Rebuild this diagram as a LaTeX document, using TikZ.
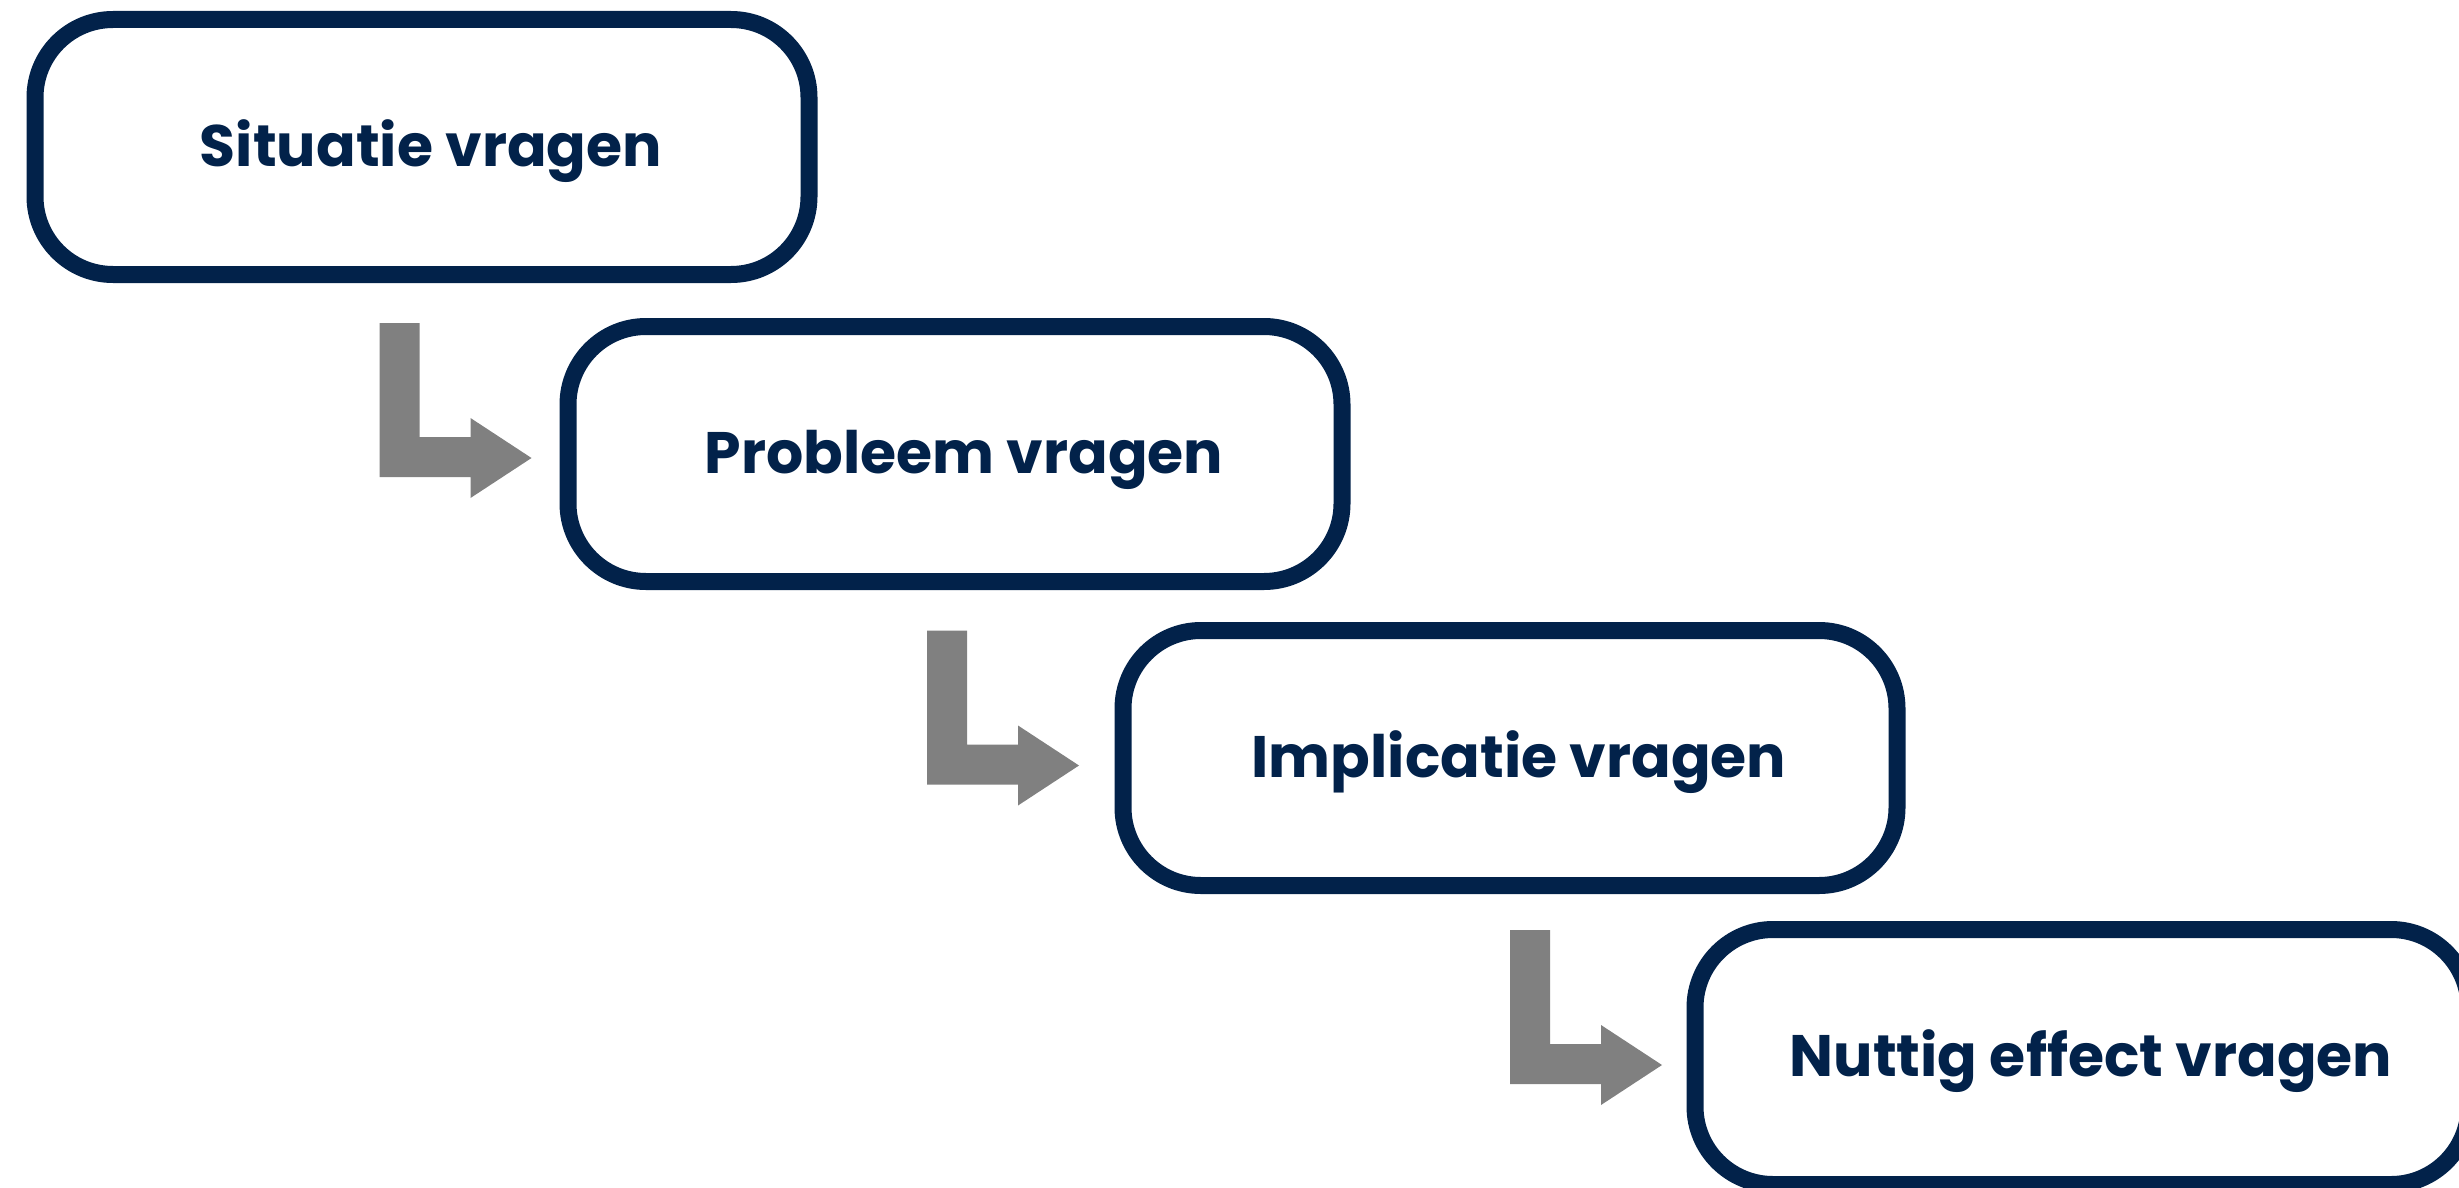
\documentclass[tikz,border=0pt]{standalone}
\usepackage{fontspec}
\setmainfont{Poppins}[Ligatures=NoCommon]
\definecolor{navy}{HTML}{02224A}
\definecolor{arrowgray}{HTML}{808080}
\tikzset{
  stepbox/.style={draw=navy, line width=17pt, fill=white, rounded corners=78pt,
    minimum width=774pt, minimum height=255pt, inner sep=0pt,
    text height=45pt, text depth=7pt,
    execute at begin node=\hspace*{18pt},
    font=\fontsize{58.5}{62}\selectfont\bfseries, text=navy},
  larrow/.pic={
    \fill[arrowgray] (0,0) -- (40,0) -- (40,114) -- (91,114) -- (91,95) -- (152,135)
      -- (91,175) -- (91,154) -- (0,154) -- cycle;
  }
}
\begin{document}
\begin{tikzpicture}[x=1pt,y=-1pt]
\useasboundingbox (0,0) rectangle (2459,1188);
\clip (0,0) rectangle (2459,1188);
\node[stepbox] (s1) at (422,147) {Situatie vragen};
\node[stepbox] (s2) at (955,454) {Probleem vragen};
\node[stepbox] (s3) at (1510,758) {Implicatie vragen};
\node[stepbox] (s4) at (2082,1057) {Nuttig effect vragen};
\pic (a1) at (379.5,323) {larrow};
\pic (a2) at (927,630.5) {larrow};
\pic (a3) at (1510,930) {larrow};
\end{tikzpicture}
\end{document}
